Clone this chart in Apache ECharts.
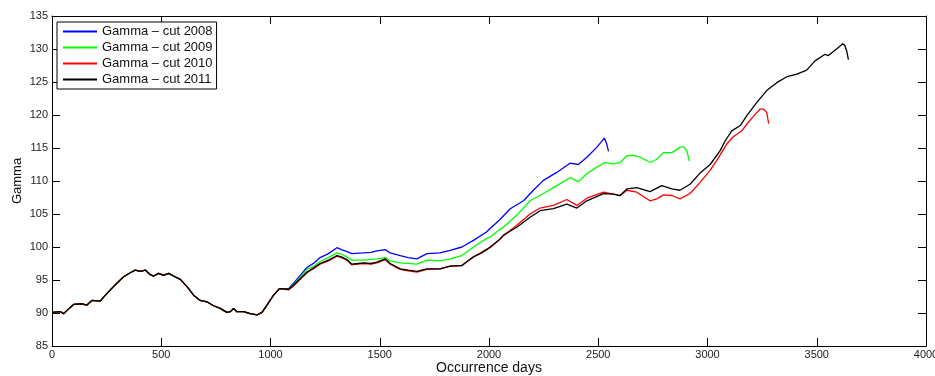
<!DOCTYPE html>
<html>
<head>
<meta charset="utf-8">
<script src="https://cdn.jsdelivr.net/npm/echarts@6/dist/echarts.min.js"></script>
<style>
html,body{margin:0;padding:0;background:#fff;}
#chart{width:935px;height:376px;}
</style>
</head>
<body>
<div id="chart"></div>
<script>
// Shared segment (all four cuts overlap)
var commonDays  = [0,38,53,69,99,137,160,183,221,236,267,297,328,358,381,404,427,450,465,488,511,533,556,587,618,648,678,709,739,770,800,816,831,846,877,907,938,961,984,1014,1041];
var commonGamma = [90.1,90.2,89.9,90.4,91.3,91.4,91.2,91.9,91.8,92.4,93.5,94.5,95.5,96.1,96.5,96.3,96.5,95.8,95.6,96.0,95.7,96.0,95.6,95.1,94.0,92.7,91.9,91.7,91.1,90.7,90.1,90.2,90.7,90.2,90.2,89.9,89.7,90.1,91.2,92.7,93.7];

var days2008  = [1083,1105,1136,1167,1200,1227,1265,1304,1325,1350,1372,1426,1460,1487,1525,1548,1594,1630,1670,1716,1776,1822,1876,1929,1990,2005,2048,2097,2158,2203,2249,2310,2371,2409,2448,2493,2528,2539,2547];
var gamma2008 = [93.7,94.5,95.7,96.9,97.6,98.4,99.0,99.9,99.6,99.3,99.0,99.1,99.2,99.4,99.6,99.1,98.7,98.4,98.2,99.0,99.1,99.5,100.0,101.0,102.3,102.8,104.1,105.8,107.0,108.6,110.1,111.3,112.7,112.5,113.6,115.1,116.5,115.6,114.5];

var days2009  = [1083,1105,1136,1167,1200,1227,1265,1304,1325,1350,1372,1426,1487,1525,1548,1594,1670,1716,1776,1822,1876,1929,1990,2005,2048,2066,2127,2188,2249,2310,2371,2409,2448,2493,2531,2569,2600,2631,2661,2692,2737,2768,2798,2837,2874,2890,2905,2917];
var gamma2009 = [93.6,94.3,95.4,96.6,97.1,97.8,98.4,99.1,98.9,98.5,98.0,98.0,98.2,98.4,97.9,97.6,97.4,98.0,97.9,98.2,98.7,100.0,101.3,101.5,102.6,103.0,104.8,107.0,108.1,109.3,110.5,109.9,111.1,112.1,112.8,112.6,112.8,113.8,113.9,113.6,112.8,113.3,114.3,114.3,115.1,115.2,114.6,113.0];

var days2010  = [1083,1105,1136,1167,1200,1227,1265,1304,1325,1350,1372,1400,1426,1460,1487,1525,1548,1570,1594,1630,1670,1716,1776,1822,1876,1900,1929,1960,1990,2005,2066,2127,2188,2234,2295,2356,2402,2448,2524,2570,2600,2631,2676,2737,2768,2798,2837,2874,2920,2966,2981,3012,3042,3088,3118,3157,3187,3218,3241,3256,3271,3280];
var gamma2010 = [93.5,94.1,95.1,96.1,96.8,97.4,97.9,98.6,98.4,98.0,97.3,97.4,97.5,97.4,97.6,98.1,97.4,97.0,96.6,96.4,96.2,96.6,96.7,97.1,97.2,97.8,98.5,99.1,99.7,99.9,101.7,103.3,105.0,105.9,106.3,107.2,106.3,107.4,108.3,108.0,107.8,108.6,108.3,107.0,107.3,107.9,107.8,107.3,108.1,109.8,110.4,111.6,113.1,115.6,116.7,117.6,118.9,120.1,120.9,120.9,120.4,118.7];

var days2011  = [1083,1105,1136,1167,1200,1227,1265,1304,1325,1350,1372,1400,1426,1460,1487,1525,1548,1570,1594,1630,1670,1716,1776,1822,1876,1900,1929,1960,1990,2005,2048,2066,2127,2188,2234,2295,2356,2402,2448,2524,2570,2600,2631,2676,2737,2791,2837,2874,2920,2966,3012,3058,3081,3111,3150,3180,3226,3271,3317,3363,3409,3454,3492,3538,3553,3591,3619,3629,3637,3645];
var gamma2011 = [93.6,94.2,95.2,96.2,96.9,97.5,98.0,98.7,98.5,98.1,97.4,97.5,97.6,97.5,97.7,98.2,97.5,97.1,96.7,96.5,96.3,96.7,96.7,97.1,97.2,97.8,98.5,99.0,99.6,100.0,101.1,101.8,103.0,104.5,105.5,105.8,106.5,105.9,107.0,108.1,108.0,107.8,108.8,109.0,108.4,109.3,108.8,108.6,109.5,111.2,112.5,114.6,116.1,117.6,118.4,119.9,121.9,123.7,124.9,125.8,126.2,126.8,128.2,129.2,129.0,130.0,130.8,130.5,129.7,128.4];

var seriesNames  = ['Gamma \u2013 cut 2008','Gamma \u2013 cut 2009','Gamma \u2013 cut 2010','Gamma \u2013 cut 2011'];
var seriesColors = ['#0000ff','#00ff00','#ff0000','#000000'];
var xTicks = {min:0, max:4000, interval:500};
var yTicks = {min:85, max:135, interval:5};

function pairs(d, g) {
  var xs = commonDays.concat(d), ys = commonGamma.concat(g), out = [];
  for (var i = 0; i < xs.length; i++) out.push([xs[i], ys[i]]);
  return out;
}
var allData = [pairs(days2008,gamma2008), pairs(days2009,gamma2009), pairs(days2010,gamma2010), pairs(days2011,gamma2011)];

var FONT = '"Liberation Sans", Arial, Helvetica, sans-serif';
var chart = echarts.init(document.getElementById('chart'), null, {renderer:'canvas'});

function plain(v){ return String(v); }
function axisCommon(showLabel, margin) {
  return {
    axisLine:{show:true, onZero:false, lineStyle:{color:'#000', width:1}},
    axisTick:{show:true, inside:true, length:8, lineStyle:{color:'#000', width:1}},
    axisLabel:{show:showLabel, color:'#222', fontSize:11, fontFamily:FONT, margin:margin || 4, formatter:plain},
    splitLine:{show:false}
  };
}

var option = {
  animation:false,
  backgroundColor:'#fff',
  grid:{left:52, right:9, top:16, bottom:30, containLabel:false, outerBoundsMode:'none'},
  legend:{
    orient:'vertical', left:57, top:22,
    data:seriesNames,
    itemWidth:34, itemHeight:2, itemGap:3,
    backgroundColor:'#fff', borderColor:'#000', borderWidth:1, borderRadius:0,
    padding:[3,4,3,5],
    textStyle:{fontSize:13, fontFamily:FONT, color:'#111'}
  },
  xAxis:[
    Object.assign({type:'value', position:'bottom', min:xTicks.min, max:xTicks.max, interval:xTicks.interval,
      name:'Occurrence days', nameLocation:'middle', nameGap:15, nameMoveOverlap:false,
      nameTextStyle:{fontSize:14, fontFamily:FONT, color:'#111'}}, axisCommon(true, 3)),
    Object.assign({type:'value', position:'top', min:xTicks.min, max:xTicks.max, interval:xTicks.interval}, axisCommon(false))
  ],
  yAxis:[
    Object.assign({type:'value', position:'left', min:yTicks.min, max:yTicks.max, interval:yTicks.interval,
      name:'Gamma', nameLocation:'middle', nameGap:28, nameMoveOverlap:false,
      nameTextStyle:{fontSize:13, fontFamily:FONT, color:'#111'}}, axisCommon(true, 4)),
    Object.assign({type:'value', position:'right', min:yTicks.min, max:yTicks.max, interval:yTicks.interval}, axisCommon(false))
  ],
  series: seriesNames.map(function(n, i){
    return {
      name:n, type:'line', data:allData[i], xAxisIndex:0, yAxisIndex:0,
      symbol:'none', showSymbol:false, smooth:false,
      lineStyle:{color:seriesColors[i], width:1.3},
      itemStyle:{color:seriesColors[i]}
    };
  })
};
chart.setOption(option);
</script>
</body>
</html>
